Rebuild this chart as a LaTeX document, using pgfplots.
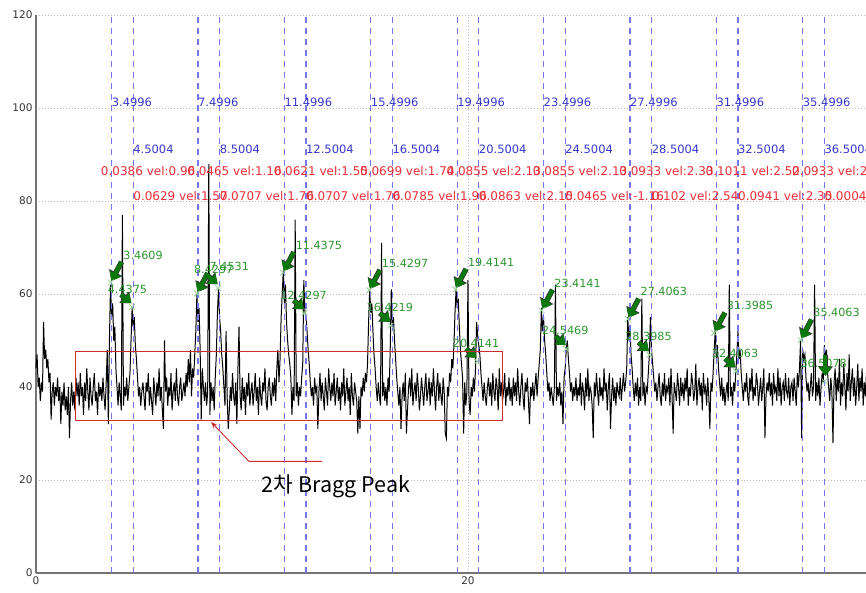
\documentclass[border=0pt]{standalone}
\usepackage{fontspec}
\setmainfont{DejaVu Sans}
\newfontfamily\kr{Noto Sans CJK KR}
\usepackage{pgfplots}
\pgfplotsset{compat=1.18}
\usepackage{pgfplotstable}
\usetikzlibrary{arrows.meta}
\definecolor{vblue}{RGB}{118,118,235}
\definecolor{tblue}{RGB}{55,55,205}
\definecolor{tred}{RGB}{235,45,55}
\definecolor{tgreen}{RGB}{45,150,45}
\definecolor{agreen}{RGB}{10,120,10}
\definecolor{mgreen}{RGB}{150,210,150}
\definecolor{boxred}{RGB}{205,45,45}

\pgfplotstableread[row sep=\\]{
y\\
44\\ 47\\ 40\\ 42\\ 37\\ 41\\ 39\\ 54\\ 46\\ 48\\ 44\\ 46\\ 41\\ 43\\ 33\\ 39\\ 41\\ 36\\ 40\\ 38\\
42\\ 37\\ 40\\ 32\\ 39\\ 36\\ 41\\ 35\\ 38\\ 34\\ 40\\ 29\\ 37\\ 41\\ 36\\ 39\\ 35\\ 42\\ 38\\ 41\\
36\\ 43\\ 38\\ 40\\ 34\\ 41\\ 37\\ 44\\ 39\\ 35\\ 42\\ 38\\ 36\\ 40\\ 43\\ 37\\ 39\\ 34\\ 41\\ 38\\
40\\ 37\\ 42\\ 38\\ 35\\ 41\\ 48\\ 32\\ 50\\ 62\\ 55\\ 58\\ 50\\ 53\\ 44\\ 40\\ 36\\ 41\\ 38\\ 35\\
77\\ 36\\ 40\\ 38\\ 42\\ 37\\ 40\\ 43\\ 50\\ 57\\ 53\\ 55\\ 49\\ 46\\ 42\\ 38\\ 40\\ 36\\ 39\\ 41\\
38\\ 35\\ 41\\ 39\\ 43\\ 36\\ 40\\ 37\\ 34\\ 42\\ 39\\ 36\\ 41\\ 38\\ 44\\ 37\\ 40\\ 35\\ 31\\ 50\\
39\\ 42\\ 36\\ 40\\ 38\\ 43\\ 35\\ 39\\ 41\\ 37\\ 44\\ 38\\ 36\\ 40\\ 42\\ 37\\ 39\\ 41\\ 38\\ 43\\
40\\ 46\\ 41\\ 48\\ 38\\ 44\\ 42\\ 47\\ 52\\ 60\\ 54\\ 57\\ 48\\ 33\\ 44\\ 40\\ 37\\ 41\\ 36\\ 39\\
88\\ 34\\ 41\\ 37\\ 40\\ 35\\ 42\\ 47\\ 56\\ 61\\ 55\\ 52\\ 47\\ 44\\ 40\\ 36\\ 52\\ 38\\ 31\\ 35\\
40\\ 37\\ 43\\ 38\\ 36\\ 41\\ 32\\ 44\\ 53\\ 38\\ 35\\ 42\\ 37\\ 40\\ 34\\ 41\\ 38\\ 43\\ 36\\ 39\\
41\\ 36\\ 39\\ 43\\ 37\\ 40\\ 34\\ 42\\ 38\\ 36\\ 41\\ 39\\ 44\\ 37\\ 35\\ 40\\ 42\\ 38\\ 36\\ 41\\
38\\ 42\\ 37\\ 44\\ 48\\ 41\\ 46\\ 55\\ 60\\ 65\\ 58\\ 62\\ 54\\ 50\\ 47\\ 45\\ 42\\ 34\\ 40\\ 37\\
76\\ 38\\ 41\\ 36\\ 40\\ 38\\ 42\\ 45\\ 63\\ 56\\ 55\\ 52\\ 48\\ 45\\ 41\\ 38\\ 40\\ 36\\ 42\\ 39\\
40\\ 31\\ 39\\ 43\\ 37\\ 41\\ 38\\ 35\\ 42\\ 39\\ 36\\ 44\\ 40\\ 37\\ 41\\ 38\\ 43\\ 36\\ 39\\ 42\\
37\\ 40\\ 35\\ 41\\ 38\\ 44\\ 36\\ 39\\ 42\\ 37\\ 40\\ 34\\ 43\\ 38\\ 36\\ 41\\ 39\\ 37\\ 30\\ 38\\
31\\ 40\\ 38\\ 42\\ 39\\ 43\\ 41\\ 45\\ 54\\ 61\\ 56\\ 58\\ 52\\ 47\\ 44\\ 40\\ 37\\ 41\\ 38\\ 36\\
71\\ 38\\ 41\\ 37\\ 40\\ 36\\ 42\\ 39\\ 48\\ 61\\ 53\\ 55\\ 50\\ 46\\ 42\\ 39\\ 36\\ 40\\ 31\\ 38\\
41\\ 37\\ 43\\ 30\\ 35\\ 40\\ 42\\ 38\\ 44\\ 36\\ 39\\ 41\\ 37\\ 43\\ 40\\ 35\\ 38\\ 42\\ 39\\ 36\\
40\\ 43\\ 37\\ 39\\ 42\\ 36\\ 41\\ 38\\ 44\\ 39\\ 35\\ 40\\ 43\\ 37\\ 41\\ 38\\ 36\\ 42\\ 39\\ 30\\
29\\ 40\\ 38\\ 43\\ 41\\ 46\\ 44\\ 49\\ 56\\ 61\\ 57\\ 59\\ 53\\ 48\\ 45\\ 42\\ 30\\ 41\\ 36\\ 39\\
63\\ 37\\ 34\\ 40\\ 38\\ 42\\ 39\\ 44\\ 54\\ 51\\ 49\\ 47\\ 43\\ 40\\ 37\\ 41\\ 38\\ 36\\ 40\\ 42\\
38\\ 41\\ 36\\ 43\\ 39\\ 37\\ 42\\ 40\\ 35\\ 44\\ 38\\ 41\\ 37\\ 39\\ 43\\ 36\\ 40\\ 38\\ 42\\ 37\\
40\\ 36\\ 42\\ 38\\ 41\\ 37\\ 44\\ 39\\ 36\\ 40\\ 43\\ 38\\ 35\\ 41\\ 39\\ 42\\ 37\\ 32\\ 40\\ 38\\
41\\ 37\\ 40\\ 43\\ 38\\ 42\\ 45\\ 48\\ 57\\ 52\\ 55\\ 50\\ 47\\ 43\\ 39\\ 41\\ 37\\ 40\\ 38\\ 36\\
40\\ 62\\ 37\\ 40\\ 38\\ 41\\ 36\\ 39\\ 32\\ 42\\ 44\\ 48\\ 50\\ 46\\ 43\\ 39\\ 41\\ 37\\ 40\\ 38\\
42\\ 37\\ 40\\ 38\\ 43\\ 36\\ 41\\ 39\\ 35\\ 42\\ 38\\ 44\\ 37\\ 40\\ 39\\ 36\\ 29\\ 41\\ 38\\ 43\\
39\\ 36\\ 42\\ 38\\ 40\\ 37\\ 44\\ 39\\ 41\\ 35\\ 40\\ 43\\ 31\\ 38\\ 42\\ 37\\ 40\\ 36\\ 41\\ 39\\
38\\ 42\\ 37\\ 40\\ 43\\ 39\\ 41\\ 44\\ 55\\ 50\\ 53\\ 47\\ 44\\ 40\\ 37\\ 41\\ 38\\ 42\\ 36\\ 40\\
37\\ 59\\ 38\\ 41\\ 36\\ 40\\ 39\\ 43\\ 47\\ 55\\ 48\\ 45\\ 42\\ 39\\ 41\\ 37\\ 40\\ 43\\ 38\\ 36\\
41\\ 38\\ 43\\ 37\\ 40\\ 39\\ 42\\ 36\\ 44\\ 38\\ 30\\ 41\\ 39\\ 37\\ 43\\ 40\\ 36\\ 42\\ 38\\ 41\\
37\\ 42\\ 39\\ 44\\ 36\\ 40\\ 38\\ 43\\ 41\\ 37\\ 39\\ 45\\ 36\\ 40\\ 42\\ 38\\ 41\\ 35\\ 43\\ 39\\
40\\ 36\\ 42\\ 38\\ 31\\ 41\\ 39\\ 43\\ 48\\ 52\\ 46\\ 49\\ 44\\ 41\\ 38\\ 42\\ 37\\ 40\\ 36\\ 39\\
41\\ 37\\ 62\\ 38\\ 40\\ 36\\ 41\\ 39\\ 43\\ 47\\ 52\\ 46\\ 48\\ 43\\ 40\\ 37\\ 41\\ 39\\ 43\\ 38\\
36\\ 42\\ 39\\ 44\\ 37\\ 40\\ 38\\ 43\\ 41\\ 36\\ 39\\ 42\\ 37\\ 40\\ 44\\ 29\\ 38\\ 41\\ 39\\ 43\\
38\\ 41\\ 36\\ 43\\ 39\\ 40\\ 37\\ 44\\ 38\\ 42\\ 36\\ 40\\ 41\\ 37\\ 43\\ 39\\ 38\\ 42\\ 36\\ 40\\
41\\ 37\\ 42\\ 39\\ 36\\ 43\\ 40\\ 44\\ 50\\ 29\\ 48\\ 46\\ 47\\ 42\\ 39\\ 41\\ 37\\ 40\\ 43\\ 38\\
40\\ 62\\ 37\\ 41\\ 38\\ 42\\ 36\\ 40\\ 43\\ 41\\ 49\\ 46\\ 48\\ 43\\ 40\\ 37\\ 42\\ 39\\ 28\\ 41\\
44\\ 37\\ 42\\ 39\\ 46\\ 36\\ 41\\ 38\\ 45\\ 40\\ 35\\ 43\\ 39\\ 47\\ 37\\ 41\\ 44\\ 38\\ 42\\ 36\\
40\\ 45\\ 37\\ 42\\ 39\\ 44\\ 36\\ 41\\ 38\\ 43\\ 40\\ 37\\ 42\\ 39\\ 41\\ 38\\ 40\\ 36\\ 43\\ 39\\
}\sig

\tikzset{
  btext/.style={anchor=base west, inner sep=0pt, text=tblue, font=\fontsize{11.5}{13}\selectfont},
  rtext/.style={anchor=base west, inner sep=0pt, text=tred, font=\fontsize{12}{14}\selectfont},
  gtext/.style={anchor=base west, inner sep=0pt, text=tgreen, font=\fontsize{11.2}{13}\selectfont},
}
\newcommand{\garrow}[2]{%
  \draw[line width=5.4pt, black!80, -{Triangle[length=9.5pt,width=14.5pt]}] #1 -- #2;
  \draw[line width=4pt, agreen, -{Triangle[length=8.5pt,width=12.5pt]}] #1 -- #2;}
\newcommand{\pone}[2]{%
  \node[gtext] at ({#1+0.58},{#2+5}) {#1};
  \garrow{({#1+0.5},{#2+4.4})}{({#1+0.03},{#2+0.3})}}
\newcommand{\ptwo}[2]{%
  \node[gtext] at ({#1-1.12},{#2+3}) {#1};
  \garrow{({#1-0.5},{#2+2.7})}{({#1-0.02},{#2+0.8})}}

\begin{document}
\begin{tikzpicture}
\useasboundingbox (-36pt,-20pt) rectangle (830pt,573pt);
\begin{axis}[
  at={(0pt,0pt)}, anchor=south west,
  scale only axis, width=830pt, height=558pt,
  xmin=0, xmax=38.43, ymin=0, ymax=120,
  axis lines*=left,
  axis line style={black!55, line width=1.4pt},
  xtick={0,20}, ytick={0,20,...,120},
  major tick length=0pt,
  grid=major,
  grid style={gray!55, line width=0.8pt, dash pattern=on 1pt off 2pt},
  ticklabel style={font=\fontsize{10.5}{12}\selectfont, text=black!80},
  /pgf/number format/assume math mode=true,
  clip=false,
]
% signal
\addplot[black, line width=1pt, mark=none] table[x expr=\coordindex*0.05, y=y] {\sig};
% vertical dashed lines
\addplot[vblue, line width=1.3pt, dash pattern=on 6pt off 5pt, ycomb, mark=none] coordinates {
 (3.4996,120) (4.5004,120) (7.4996,120) (8.5004,120) (11.4996,120) (12.5004,120)
 (15.4996,120) (16.5004,120) (19.4996,120) (20.5004,120) (23.4996,120) (24.5004,120)
 (27.4996,120) (28.5004,120) (31.4996,120) (32.5004,120) (35.4996,120) (36.5004,120)};
% peak markers
\addplot[only marks, mark=x, mark size=4pt, mgreen, line width=0.8pt] coordinates {
 (3.4609,62.5) (4.4375,57.2) (7.4531,60.1) (8.4297,61.3) (11.4375,64.6) (12.4297,55.9)
 (15.4297,60.8) (16.4219,53.2) (19.4141,61.0) (20.4141,45.5) (23.4141,56.5) (24.5469,48.2)
 (27.4063,54.6) (28.3985,46.9) (31.3985,51.6) (32.4063,43.4) (35.4063,50.1) (36.5078,41.2)};

% blue labels
\node[btext] at (3.4996,100.3) {3.4996};
\node[btext] at (7.4996,100.3) {7.4996};
\node[btext] at (11.4996,100.3) {11.4996};
\node[btext] at (15.4996,100.3) {15.4996};
\node[btext] at (19.4996,100.3) {19.4996};
\node[btext] at (23.4996,100.3) {23.4996};
\node[btext] at (27.4996,100.3) {27.4996};
\node[btext] at (31.4996,100.3) {31.4996};
\node[btext] at (35.4996,100.3) {35.4996};
\node[btext] at (4.5004,90.3) {4.5004};
\node[btext] at (8.5004,90.3) {8.5004};
\node[btext] at (12.5004,90.3) {12.5004};
\node[btext] at (16.5004,90.3) {16.5004};
\node[btext] at (20.5004,90.3) {20.5004};
\node[btext] at (24.5004,90.3) {24.5004};
\node[btext] at (28.5004,90.3) {28.5004};
\node[btext] at (32.5004,90.3) {32.5004};
\node[btext] at (36.5004,90.3) {36.5004};
% red labels
\node[rtext] at (2.9996,85.5) {0.0386 vel:0.96};
\node[rtext] at (6.9996,85.5) {0.0465 vel:1.16};
\node[rtext] at (10.9996,85.5) {0.0621 vel:1.55};
\node[rtext] at (14.9996,85.5) {0.0699 vel:1.74};
\node[rtext] at (18.9996,85.5) {0.0855 vel:2.13};
\node[rtext] at (22.9996,85.5) {0.0855 vel:2.13};
\node[rtext] at (26.9996,85.5) {0.0933 vel:2.33};
\node[rtext] at (30.9996,85.5) {0.1011 vel:2.52};
\node[rtext] at (34.9996,85.5) {0.0933 vel:2.33};
\node[rtext] at (4.5004,80.2) {0.0629 vel:1.57};
\node[rtext] at (8.5004,80.2) {0.0707 vel:1.76};
\node[rtext] at (12.5004,80.2) {0.0707 vel:1.76};
\node[rtext] at (16.5004,80.2) {0.0785 vel:1.96};
\node[rtext] at (20.5004,80.2) {0.0863 vel:2.15};
\node[rtext] at (24.5004,80.2) {0.0465 vel:-1.16};
\node[rtext] at (28.5004,80.2) {0.102 vel:2.54};
\node[rtext] at (32.5004,80.2) {0.0941 vel:2.35};
\node[rtext] at (36.5004,80.2) {0.0004 vel:0.01};

% green annotations
\pone{3.4609}{62.5}
\ptwo{4.4375}{57.2}
\pone{7.4531}{60.1}
\ptwo{8.4297}{61.3}
\pone{11.4375}{64.6}
\ptwo{12.4297}{55.9}
\pone{15.4297}{60.8}
\ptwo{16.4219}{53.2}
\pone{19.4141}{61.0}
\ptwo{20.4141}{45.5}
\pone{23.4141}{56.5}
\ptwo{24.5469}{48.2}
\pone{27.4063}{54.6}
\ptwo{28.3985}{46.9}
\pone{31.3985}{51.6}
\ptwo{32.4063}{43.4}
\pone{35.4063}{50.1}
\node[gtext] at (35.39,44.2) {36.5078};
\garrow{(36.55,46.8)}{(36.55,42.4)}

% red box and annotation
\draw[boxred, line width=0.9pt] (1.84,32.8) rectangle (21.6,47.7);
\draw[boxred, line width=0.9pt, -{Stealth[length=7pt,width=5pt]}] (13.25,24.0) -- (9.86,24.0) -- (8.1,32.5);
\node[anchor=west, inner sep=0pt] at (10.45,18.7) {\kr\fontsize{21.5}{25}\selectfont 2차 Bragg Peak};
\end{axis}
\end{tikzpicture}
\end{document}
